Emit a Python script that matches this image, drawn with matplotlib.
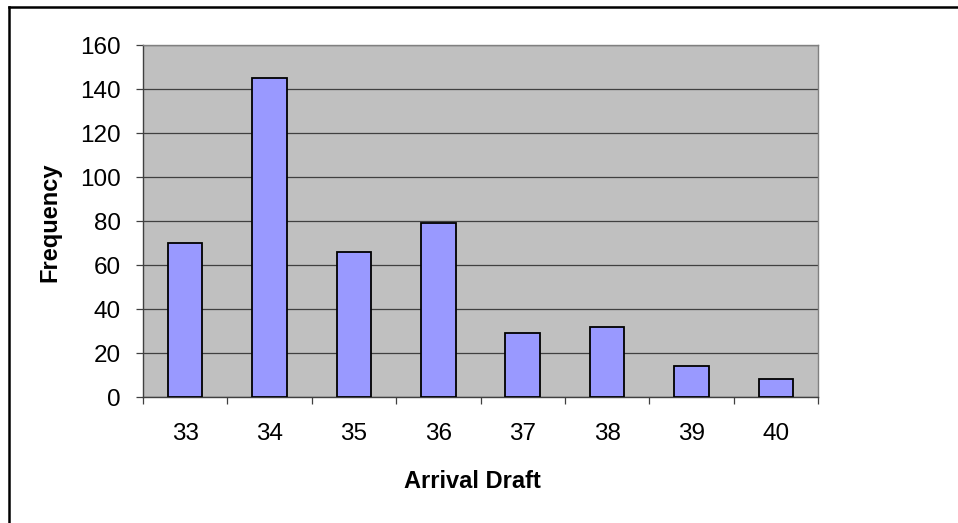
import matplotlib
matplotlib.use("Agg")
import matplotlib.pyplot as plt
from matplotlib.lines import Line2D
import numpy as np

plt.rcParams['font.family'] = ['Liberation Sans', 'DejaVu Sans']

# Arrival draft histogram data
drafts = ['33', '34', '35', '36', '37', '38', '39', '40']
frequency = [70, 145, 66, 79, 29, 32, 14, 8]
y_ticks = [0, 20, 40, 60, 80, 100, 120, 140, 160]

W, H = 958, 523
fig = plt.figure(figsize=(W / 100, H / 100), dpi=100)
fig.patch.set_facecolor('white')

# plot area in pixel coordinates
left, right, top, bottom = 143, 818, 45, 397
ax = fig.add_axes([left / W, 1 - bottom / H, (right - left) / W, (bottom - top) / H])
ax.set_facecolor('#C0C0C0')

x = np.arange(len(drafts))
ax.bar(x, frequency, width=0.41, color='#9999FF', edgecolor='black',
       linewidth=1.3, zorder=3)

ax.set_xlim(-0.5, len(drafts) - 0.5)
ax.set_ylim(0, 160)
ax.set_yticks(y_ticks)
ax.set_yticklabels([str(v) for v in y_ticks], fontsize=17.5)
ax.yaxis.grid(True, color='#404040', linewidth=0.9, zorder=1)
ax.set_axisbelow(True)
ax.tick_params(axis='y', direction='out', length=5, width=0.9, color='#404040', pad=11)

# category labels centred under bars, tick marks on boundaries
ax.set_xticks(x)
ax.set_xticklabels(drafts, fontsize=17.5)
ax.tick_params(axis='x', which='major', length=0, pad=19)
ax.set_xticks(np.arange(-0.5, len(drafts)), minor=True)
ax.tick_params(axis='x', which='minor', direction='out', length=5, width=0.9, color='#404040')

for side in ('left', 'bottom'):
    ax.spines[side].set_color('#404040')
    ax.spines[side].set_linewidth(1.0)
for side in ('top', 'right'):
    ax.spines[side].set_color('#808080')
    ax.spines[side].set_linewidth(1.0)

fig.text(50 / W, 1 - 222 / H, 'Frequency', rotation=90, ha='center', va='center',
         fontsize=17, fontweight='bold')
fig.text(472 / W, 1 - 482 / H, 'Arrival Draft', ha='center', va='center',
         fontsize=17, fontweight='bold')

# chart frame (top and left edges)
fig.add_artist(Line2D([8.5 / W, 1.0], [1 - 7 / H, 1 - 7 / H], color='black', linewidth=1.8,
                      transform=fig.transFigure))
fig.add_artist(Line2D([8.5 / W, 8.5 / W], [0.0, 1 - 7 / H], color='black', linewidth=1.8,
                      transform=fig.transFigure))

fig.savefig('out.png', dpi=100)
